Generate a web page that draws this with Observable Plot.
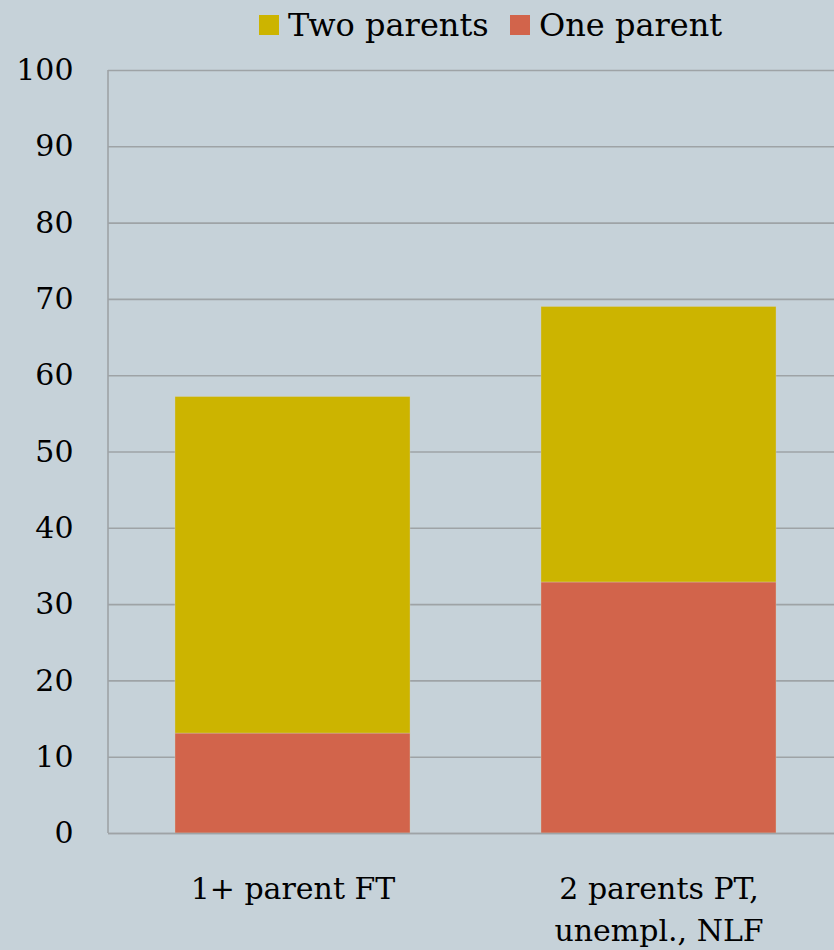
<!DOCTYPE html>
<html>
<head>
<meta charset="utf-8">
<script src="https://cdn.jsdelivr.net/npm/d3@7"></script>
<script src="https://cdn.jsdelivr.net/npm/@observablehq/plot@0.6"></script>
<style>
  html, body { margin: 0; padding: 0; background: #c6d2d9; }
  body { width: 834px; height: 950px; overflow: hidden; font-family: "DejaVu Serif", serif; }
  #legend { height: 50px; position: relative; font-size: 32px; color: #000; }
  .item { position: absolute; top: 6px; display: flex; align-items: center; white-space: nowrap; }
  .sw { width: 20px; height: 20px; margin-right: 9px; }
</style>
</head>
<body>
<div id="legend"></div>
<div id="chart"></div>
<script>
const categories = ["1+ parent FT", "2 parents PT, unempl., NLF"];
const tickLabels = ["1+ parent FT", "2 parents PT,\nunempl., NLF"];
const series = ["One parent", "Two parents"];
const legendOrder = ["Two parents", "One parent"];
const colors = ["#d2644b", "#ccb400"];
const onePar = [13.1, 32.9];
const twoPar = [44.1, 36.1];
const yTicks = [0, 10, 20, 30, 40, 50, 60, 70, 80, 90, 100];

const data = [];
categories.forEach((c, i) => {
  data.push({cat: c, series: series[0], value: onePar[i]});
  data.push({cat: c, series: series[1], value: twoPar[i]});
});

// legend
const leg = document.getElementById("legend");
const legendX = [259, 510];
legendOrder.forEach((s, i) => {
  const it = document.createElement("div");
  it.className = "item";
  it.style.left = legendX[i] + "px";
  const sw = document.createElement("div");
  sw.className = "sw";
  sw.style.background = colors[series.indexOf(s)];
  const t = document.createElement("span");
  t.textContent = s;
  it.appendChild(sw); it.appendChild(t);
  leg.appendChild(it);
});

const gridColor = "#9ea3a6";
const chart = Plot.plot({
  width: 834,
  height: 900,
  marginTop: 20,
  marginBottom: 117,
  marginLeft: 108,
  marginRight: 0,
  style: {background: "transparent", fontFamily: "DejaVu Serif, serif", fontSize: "30px", color: "#000", overflow: "visible"},
  x: {domain: categories, range: [108, 843], paddingInner: 0.357, paddingOuter: 0.18},
  y: {domain: [0, 100], range: [783, 20]},
  color: {domain: series, range: colors},
  marks: [
    Plot.ruleY(yTicks, {stroke: gridColor, strokeWidth: 1.6}),
    Plot.barY(data, {x: "cat", y: "value", fill: "series", stroke: "#d6d0b8", strokeWidth: 0.6, strokeOpacity: 0.6}),
    Plot.axisY({ticks: yTicks, tickSize: 0, tickPadding: 35, fontSize: 30, fill: "#000", label: null}),
    Plot.axisX({tickSize: 0, tickPadding: 36, fontSize: 30, fill: "#000", label: null, lineHeight: 1.4,
      tickFormat: d => tickLabels[categories.indexOf(d)]}),
    Plot.ruleY([0], {stroke: gridColor, strokeWidth: 1.6})
  ]
});
document.getElementById("chart").appendChild(chart);

// left axis line along the frame edge, placed through the y scale
const ys = chart.scale("y");
d3.select(chart).append("line")
  .attr("x1", 108).attr("x2", 108)
  .attr("y1", ys.apply(100)).attr("y2", ys.apply(0))
  .attr("stroke", gridColor).attr("stroke-width", 1.6);
</script>
</body>
</html>
